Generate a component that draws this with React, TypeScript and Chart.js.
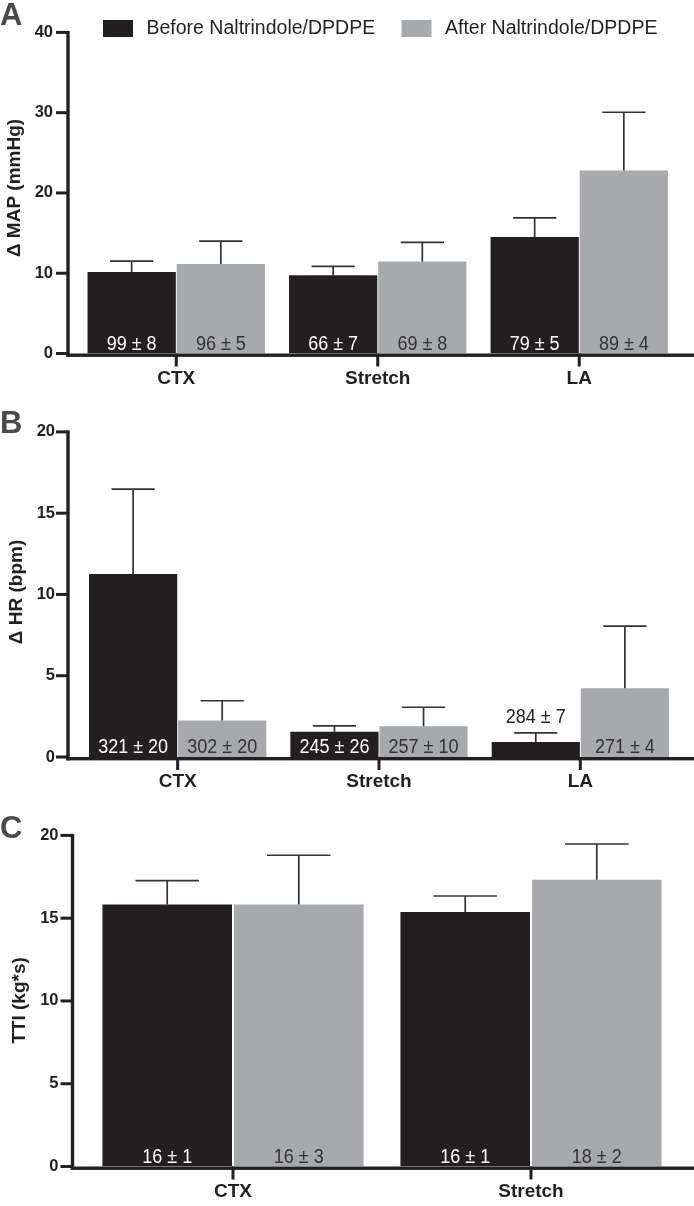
import React, { useEffect, useRef } from "react";
import { Chart, registerables } from "chart.js";

Chart.register(...registerables);

// ---------- data ----------
const seriesNames = ["Before Naltrindole/DPDPE", "After Naltrindole/DPDPE"];

const mapCategories = ["CTX", "Stretch", "LA"];
const mapBefore = [10.15, 9.75, 14.5];
const mapBeforeErr = [1.35, 1.1, 2.4];
const mapAfter = [11.15, 11.45, 22.8];
const mapAfterErr = [2.85, 2.4, 7.25];
const mapBeforeText = ["99 ± 8", "66 ± 7", "79 ± 5"];
const mapAfterText = ["96 ± 5", "69 ± 8", "89 ± 4"];
const mapTicks = [0, 10, 20, 30, 40];

const hrCategories = ["CTX", "Stretch", "LA"];
const hrBefore = [11.26, 1.55, 0.92];
const hrBeforeErr = [5.22, 0.37, 0.57];
const hrAfter = [2.25, 1.89, 4.23];
const hrAfterErr = [1.21, 1.17, 3.82];
const hrBeforeText = ["321 ± 20", "245 ± 26", "284 ± 7"];
const hrAfterText = ["302 ± 20", "257 ± 10", "271 ± 4"];
const hrTicks = [0, 5, 10, 15, 20];

const ttiCategories = ["CTX", "Stretch"];
const ttiBefore = [15.82, 15.38];
const ttiBeforeErr = [1.45, 0.96];
const ttiAfter = [15.82, 17.32];
const ttiAfterErr = [2.98, 2.16];
const ttiBeforeText = ["16 ± 1", "16 ± 1"];
const ttiAfterText = ["16 ± 3", "18 ± 2"];
const ttiTicks = [0, 5, 10, 15, 20];

// ---------- style ----------
const W = 694;
const FONT = '"Liberation Sans", Arial, Helvetica, sans-serif';
const INK = "#231f20";
const BLACK_BAR = "#231f20";
const GRAY_BAR = "#a7a9ac";
const ERR = "#333333";

type Panel = {
  letter: string;
  yTitle: string;
  categories: string[];
  before: number[];
  beforeErr: number[];
  after: number[];
  afterErr: number[];
  beforeText: string[];
  afterText: string[];
  ticks: number[];
  legend: boolean;
  geo: {
    top: number; height: number; cTop: number; cBottom: number; cLeft: number; cRight: number;
    axisX: number; titleX: number; letterY: number; yPad: number; catPct: number; barPct: number;
  };
};

const panels: Panel[] = [
  {
    letter: "A", yTitle: "Δ MAP (mmHg)", categories: mapCategories,
    before: mapBefore, beforeErr: mapBeforeErr, after: mapAfter, afterErr: mapAfterErr,
    beforeText: mapBeforeText, afterText: mapAfterText, ticks: mapTicks, legend: true,
    geo: { top: 0, height: 400, cTop: 22.5, cBottom: 353.5, cLeft: 75.5, cRight: 680, axisX: 68, titleX: 14.5, letterY: 25, yPad: 22.5, catPct: 0.885, barPct: 0.99 },
  },
  {
    letter: "B", yTitle: "Δ HR (bpm)", categories: hrCategories,
    before: hrBefore, beforeErr: hrBeforeErr, after: hrAfter, afterErr: hrAfterErr,
    beforeText: hrBeforeText, afterText: hrAfterText, ticks: hrTicks, legend: false,
    geo: { top: 400, height: 400, cTop: 27, cBottom: 357, cLeft: 77, cRight: 681, axisX: 68, titleX: 17, letterY: 33, yPad: 22, catPct: 0.885, barPct: 0.99 },
  },
  {
    letter: "C", yTitle: "TTI (kg*s)", categories: ttiCategories,
    before: ttiBefore, beforeErr: ttiBeforeErr, after: ttiAfter, afterErr: ttiAfterErr,
    beforeText: ttiBeforeText, afterText: ttiAfterText, ticks: ttiTicks, legend: false,
    geo: { top: 800, height: 406, cTop: 34.5, cBottom: 366.5, cLeft: 84, cRight: 680, axisX: 72.5, titleX: 20, letterY: 38, yPad: 25.5, catPct: 0.883, barPct: 0.985 },
  },
];

function drawCondensed(ctx: CanvasRenderingContext2D, text: string, x: number, y: number, sx: number) {
  ctx.save();
  ctx.translate(x, y);
  ctx.scale(sx, 1);
  ctx.fillText(text, 0, 0);
  ctx.restore();
}

function makePlugin(p: Panel) {
  return {
    id: "panelDecor" + p.letter,
    afterDatasetsDraw(chart: any) {
      const ctx = chart.ctx as CanvasRenderingContext2D;
      const xs = chart.scales.x;
      const ys = chart.scales.y;
      const g = p.geo;
      const y0 = ys.getPixelForValue(0);
      const yMax = ys.getPixelForValue(p.ticks[p.ticks.length - 1]);
      ctx.save();

      // error bars + labels
      const errs = [p.beforeErr, p.afterErr];
      const texts = [p.beforeText, p.afterText];
      for (let di = 0; di < 2; di++) {
        const meta = chart.getDatasetMeta(di);
        meta.data.forEach((el: any, i: number) => {
          const v = chart.data.datasets[di].data[i] as number;
          const yTop = ys.getPixelForValue(v + errs[di][i]);
          const w = el.width;
          ctx.strokeStyle = ERR;
          ctx.lineWidth = 1.7;
          ctx.beginPath();
          ctx.moveTo(el.x, el.y);
          ctx.lineTo(el.x, yTop);
          ctx.moveTo(el.x - w * 0.245, yTop);
          ctx.lineTo(el.x + w * 0.245, yTop);
          ctx.stroke();

          ctx.font = `20px ${FONT}`;
          ctx.textAlign = "center";
          ctx.textBaseline = "alphabetic";
          const barH = y0 - el.y;
          if (barH < 20) {
            ctx.fillStyle = INK;
            drawCondensed(ctx, texts[di][i], el.x, yTop - 10, 0.9);
          } else {
            ctx.fillStyle = di === 0 ? "#ffffff" : "#333333";
            drawCondensed(ctx, texts[di][i], el.x, y0 - 4, 0.9);
          }
        });
      }

      // axes
      ctx.fillStyle = INK;
      const ax = g.axisX;
      ctx.fillRect(ax - 1.7, yMax - 1.5, 3.4, y0 + 3.4 - (yMax - 1.5));
      ctx.fillRect(ax - 1.7, y0, W - (ax - 1.7), 3.4);
      p.ticks.forEach((t) => {
        const y = ys.getPixelForValue(t);
        ctx.fillRect(ax - 12, y - 1.5, 12, 3);
      });
      p.categories.forEach((_c, i) => {
        const x = xs.getPixelForValue(i);
        ctx.fillRect(x - 1.5, y0, 3, 13);
      });

      // y title
      ctx.save();
      ctx.translate(g.titleX, (g.cTop + g.cBottom) / 2);
      ctx.rotate(-Math.PI / 2);
      ctx.font = `bold 19px ${FONT}`;
      ctx.fillStyle = INK;
      ctx.textAlign = "center";
      ctx.textBaseline = "middle";
      ctx.fillText(p.yTitle, 0, 0);
      ctx.restore();

      // panel letter
      ctx.font = `bold 31px ${FONT}`;
      ctx.fillStyle = "#4a4a4a";
      ctx.textAlign = "left";
      ctx.textBaseline = "alphabetic";
      ctx.fillText(p.letter, 0, g.letterY);

      // legend
      if (p.legend) {
        const items = [
          { x: 103, color: BLACK_BAR, text: seriesNames[0] },
          { x: 401.5, color: GRAY_BAR, text: seriesNames[1] },
        ];
        items.forEach((it) => {
          ctx.fillStyle = it.color;
          ctx.fillRect(it.x, 20, 30, 17);
          ctx.fillStyle = INK;
          ctx.font = `19.5px ${FONT}`;
          ctx.textBaseline = "middle";
          ctx.textAlign = "left";
          ctx.fillText(it.text, it.x + 43.5, 29);
        });
      }
      ctx.restore();
    },
  };
}

function PanelChart({ p }: { p: Panel }) {
  const ref = useRef<HTMLCanvasElement | null>(null);
  useEffect(() => {
    if (!ref.current) return;
    const g = p.geo;
    const chart = new Chart(ref.current, {
      type: "bar",
      data: {
        labels: p.categories,
        datasets: [
          { label: seriesNames[0], data: p.before, backgroundColor: BLACK_BAR, categoryPercentage: g.catPct, barPercentage: g.barPct },
          { label: seriesNames[1], data: p.after, backgroundColor: GRAY_BAR, categoryPercentage: g.catPct, barPercentage: g.barPct },
        ],
      },
      options: {
        responsive: false,
        animation: false,
        events: [],
        layout: { padding: { top: g.cTop, right: W - g.cRight, bottom: 0, left: 0 } },
        plugins: { legend: { display: false }, tooltip: { enabled: false }, title: { display: false } },
        scales: {
          x: {
            grid: { display: false, drawTicks: false },
            border: { display: false },
            ticks: { color: INK, font: { family: FONT, size: 19, weight: "bold" }, padding: 13.5, maxRotation: 0 },
            afterFit: (s: any) => { s.height = g.height - g.cBottom; },
          },
          y: {
            min: 0,
            max: p.ticks[p.ticks.length - 1],
            grid: { display: false, drawTicks: false },
            border: { display: false },
            ticks: { stepSize: p.ticks[1] - p.ticks[0], color: INK, font: { family: FONT, size: 16.5, weight: "bold" }, padding: g.yPad },
            afterFit: (s: any) => { s.width = g.cLeft; },
          },
        },
      } as any,
      plugins: [makePlugin(p)],
    });
    return () => chart.destroy();
  }, [p]);
  return (
    <canvas
      ref={ref}
      width={W}
      height={p.geo.height}
      style={{ position: "absolute", left: 0, top: p.geo.top, width: W, height: p.geo.height, display: "block" }}
    />
  );
}

export default function App() {
  return (
    <div style={{ position: "absolute", left: 0, top: 0, width: W, height: 1206, background: "#ffffff", overflow: "hidden" }}>
      {panels.map((p) => (
        <PanelChart key={p.letter} p={p} />
      ))}
    </div>
  );
}
